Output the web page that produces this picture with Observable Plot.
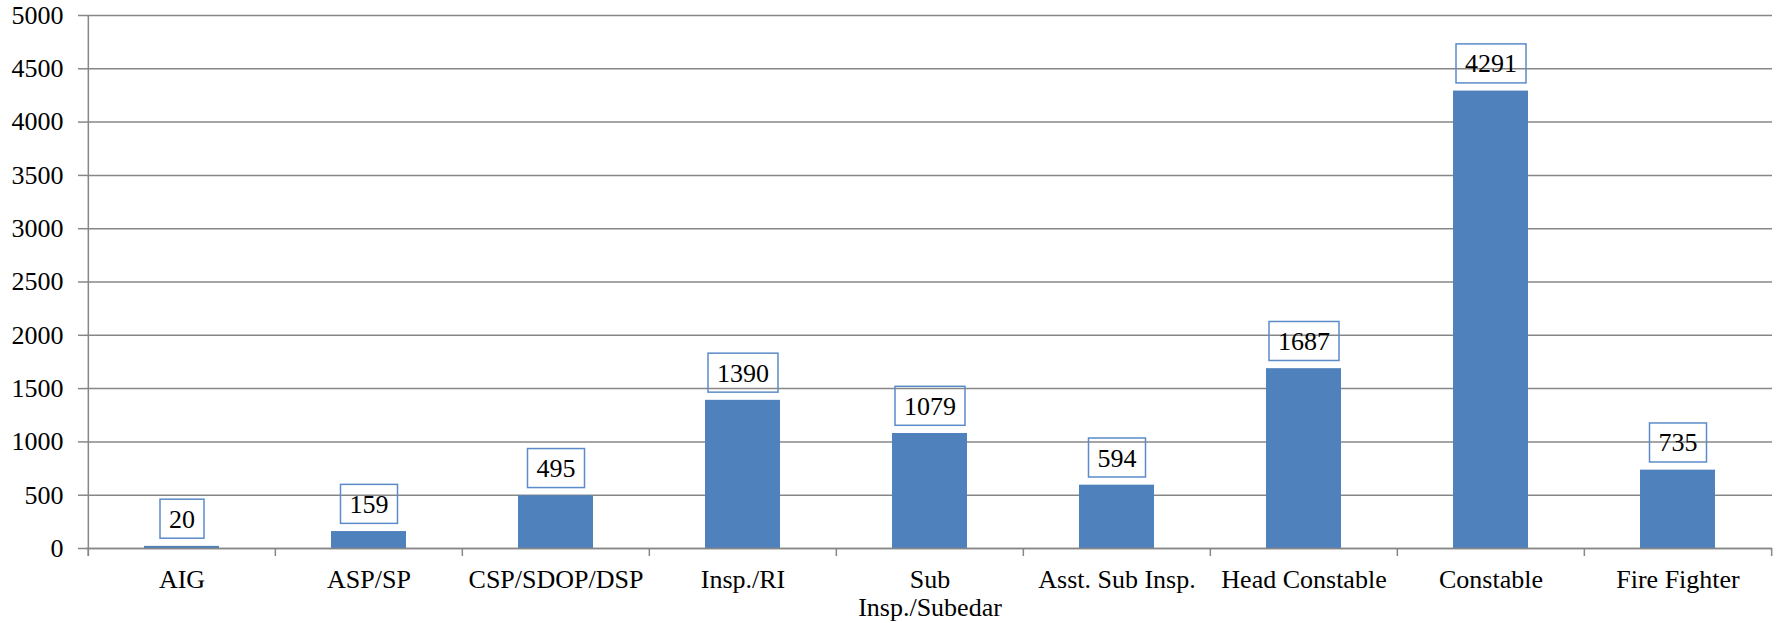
<!DOCTYPE html>
<html>
<head>
<meta charset="utf-8">
<script src="https://cdn.jsdelivr.net/npm/d3@7"></script>
<script src="https://cdn.jsdelivr.net/npm/@observablehq/plot@0.6"></script>
<style>
  html, body { margin: 0; padding: 0; background: #fff; }
  #chart svg { display: block; }
  #chart svg, #chart svg text { font-family: "Liberation Serif", "Times New Roman", serif !important; }
</style>
</head>
<body>
<div id="chart"></div>
<script>
const categories = ["AIG", "ASP/SP", "CSP/SDOP/DSP", "Insp./RI", "Sub\nInsp./Subedar", "Asst. Sub Insp.", "Head Constable", "Constable", "Fire Fighter"];
const counts = [20, 159, 495, 1390, 1079, 594, 1687, 4291, 735];
const yTicks = [0, 500, 1000, 1500, 2000, 2500, 3000, 3500, 4000, 4500, 5000];

const data = categories.map((c, i) => ({category: c, count: counts[i]}));

const W = 1782, H = 623, mL = 86, mR = 10, mT = 15, mB = 75;
const step = (W - mL - mR) / categories.length;
const gray = "#878787";
const blue = "#4F81BD";
const fs = 26;

const chart = Plot.plot({
  width: W, height: H,
  marginTop: mT, marginBottom: mB, marginLeft: mL, marginRight: mR,
  style: {fontFamily: "Liberation Serif", fontSize: fs + "px", color: "#000", background: "#fff"},
  x: {domain: categories, paddingInner: 0.6, paddingOuter: 0.3, label: null},
  y: {domain: [0, 5000], ticks: yTicks, label: null},
  marks: [
    Plot.gridY(yTicks, {stroke: gray, strokeOpacity: 1, strokeWidth: 1.5}),
    Plot.axisY(yTicks, {tickSize: 8, tickPadding: 15, stroke: gray, strokeWidth: 1.5, fontSize: fs, tickFormat: d => String(d), label: null}),
    Plot.barY(data, {x: "category", y: "count", fill: blue}),
    Plot.ruleY([0], {stroke: gray, strokeWidth: 1.5}),
    Plot.ruleX([categories[0]], {x: d => d, y1: 5000, y2: 0, insetBottom: -8, dx: -step / 2, stroke: gray, strokeWidth: 1.5}),
    Plot.ruleX(categories, {x: d => d, y1: 0, y2: 0, insetBottom: -8, dx: -step / 2, stroke: gray, strokeWidth: 1.5}),
    Plot.ruleX([categories[categories.length - 1]], {x: d => d, y1: 0, y2: 0, insetBottom: -8, dx: step / 2, stroke: gray, strokeWidth: 1.5}),
    Plot.axisX({tickSize: 0, tickPadding: 19, fontSize: fs, lineHeight: 1.1, label: null}),
    Plot.text(data, {x: "category", y: "count", text: d => String(d.count), dy: -27, fontSize: fs, lineAnchor: "middle", fill: "#000"})
  ]
});

document.getElementById("chart").appendChild(chart);

// Draw the outlined boxes around the value labels, sized from the rendered text.
const labelGroups = chart.querySelectorAll('g[aria-label="text"]');
labelGroups.forEach(g => {
  g.querySelectorAll("text").forEach(t => {
    const bb = t.getBBox();
    const cy = bb.y + bb.height / 2;
    const r = document.createElementNS("http://www.w3.org/2000/svg", "rect");
    r.setAttribute("x", bb.x - 9);
    r.setAttribute("width", bb.width + 18);
    r.setAttribute("y", cy - 20);
    r.setAttribute("height", 39);
    r.setAttribute("fill", "none");
    r.setAttribute("stroke", "#5B8BC9");
    r.setAttribute("stroke-width", 1.5);
    if (t.getAttribute("transform")) r.setAttribute("transform", t.getAttribute("transform"));
    g.insertBefore(r, t);
  });
});
</script>
</body>
</html>
